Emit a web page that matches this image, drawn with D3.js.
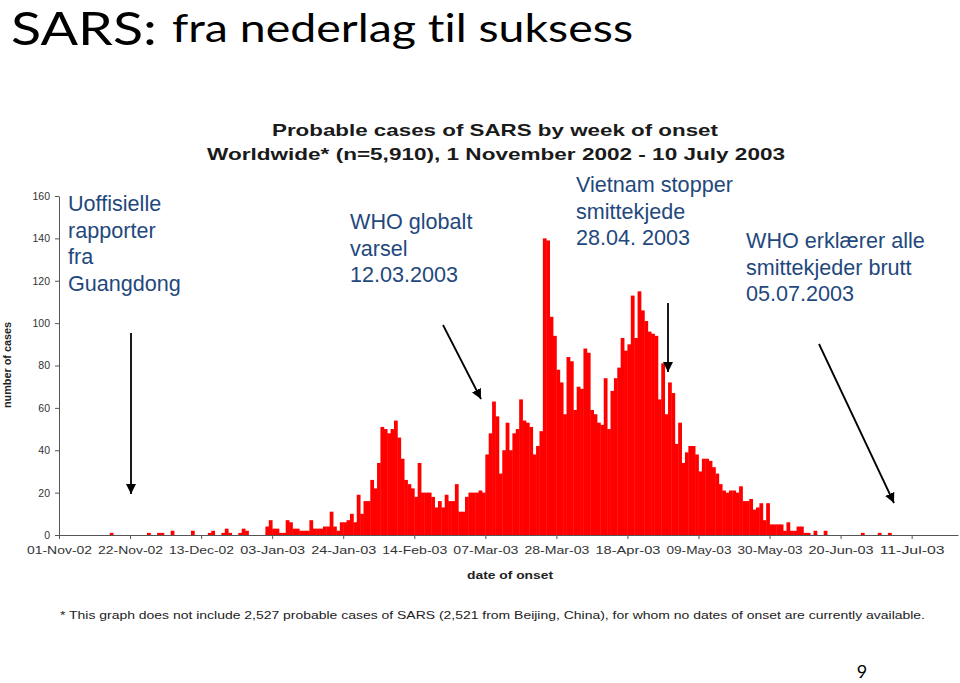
<!DOCTYPE html>
<html>
<head>
<meta charset="utf-8">
<script src="https://cdn.jsdelivr.net/npm/d3@7"></script>
<style>
  html, body { margin: 0; padding: 0; background: #fff; }
  svg { display: block; }
  text { font-variant-ligatures: none; font-feature-settings: "liga" 0; }
</style>
</head>
<body>
<svg id="chart" width="960" height="683"></svg>
<script>
// ---------------- DATA ----------------
// Daily probable SARS cases by date of onset, starting 01-Nov-2002 (index 0)
const dailyCases = [
  0,0,0,0,0,0,0, 0,0,0,0,0,0,0,            // 0-13
  0,1,0,0,0,0,0, 0,0,0,0,0,1,0,            // 14-27
  0,1,1,0,0,2,0, 0,0,0,0,2,0,0,            // 28-41
  0,0,1,2,0,0,1, 3,1,0,0,1,3,2,            // 42-55
  0,0,0,0,0,4,7, 3,3,1,1,7,6,3,            // 56-69
  3,2,2,2,7,3,3, 3,4,4,11,4,2,6,           // 70-83
  6,7,10,6,19,10,16, 16,26,22,34,51,50,48, // 84-97
  50,54,46,36,26,24,22, 18,34,20,20,20,18,13, // 98-111
  16,13,19,16,16,24,11, 11,18,20,20,20,21,20, // 112-125
  38,48,63,56,29,40,53, 40,48,50,64,54,53,51, // 126-139
  38,42,49,140,139,103,94, 78,72,57,84,82,59,70, // 140-153
  69,88,86,59,57,53,52, 74,50,68,74,79,93,87,    // 154-167
  90,113,93,115,106,101,96, 95,94,64,81,57,72,67, // 168-181
  43,53,34,39,42,42,38, 30,36,36,35,32,29,24,     // 182-195
  21,20,21,21,20,23,16, 16,17,12,13,15,7,15,      // 196-209
  5,5,5,5,2,6,2, 2,4,4,1,1,0,2,                   // 210-223
  0,0,2,0,0,0,0, 0,0,0,0,0,0,1,                   // 224-237
  0,0,0,0,1,0,0, 1,0,0,0,0,0,0                    // 238-251
];
const tickDays   = [0, 21, 42, 63, 84, 105, 126, 147, 168, 189, 210, 231, 252];
const tickLabels = ["01-Nov-02","22-Nov-02","13-Dec-02","03-Jan-03","24-Jan-03","14-Feb-03",
                    "07-Mar-03","28-Mar-03","18-Apr-03","09-May-03","30-May-03","20-Jun-03","11-Jul-03"];
const yTicks = [0, 20, 40, 60, 80, 100, 120, 140, 160];

const annotations = [
  { lines: ["Uoffisielle", "rapporter", "fra", "Guangdong"] },
  { lines: ["WHO globalt", "varsel", "12.03.2003"] },
  { lines: ["Vietnam stopper", "smittekjede", "28.04. 2003"] },
  { lines: ["WHO erklærer alle", "smittekjeder brutt", "05.07.2003"] }
];

// ---------------- LAYOUT ----------------
const svg = d3.select("#chart");
svg.append("rect").attr("width", 960).attr("height", 683).attr("fill", "#fff");

const x = d3.scaleLinear().domain([0, 265.7]).range([59, 958]);
const y = d3.scaleLinear().domain([0, 160]).range([535, 196]);

// Slide title
svg.append("text").attr("x", 11).attr("y", 45)
  .style("font-family", "Lato, 'Open Sans', sans-serif")
  .style("font-size", "45.5px").attr("fill", "#000")
  .attr("textLength", 146).attr("lengthAdjust", "spacingAndGlyphs")
  .text("SARS:");
svg.append("text").attr("x", 172).attr("y", 42)
  .style("font-family", "Lato, 'Open Sans', sans-serif")
  .style("font-size", "38px").attr("fill", "#000")
  .attr("textLength", 461).attr("lengthAdjust", "spacingAndGlyphs")
  .text("fra nederlag til suksess");

// Chart titles
const titleFont = "'Liberation Sans', Arial, sans-serif";
svg.append("text").attr("x", 495).attr("y", 136).attr("text-anchor", "middle")
  .style("font-family", titleFont).style("font-size", "17px").style("font-weight", "bold")
  .attr("fill", "#1a1a1a")
  .attr("textLength", 446).attr("lengthAdjust", "spacingAndGlyphs")
  .text("Probable cases of SARS by week of onset");
svg.append("text").attr("x", 496).attr("y", 160).attr("text-anchor", "middle")
  .style("font-family", titleFont).style("font-size", "17px").style("font-weight", "bold")
  .attr("fill", "#1a1a1a")
  .attr("textLength", 578).attr("lengthAdjust", "spacingAndGlyphs")
  .text("Worldwide* (n=5,910), 1 November 2002 - 10 July 2003");

// Bars
const barData = dailyCases.map((v, i) => ({ day: i, value: v })).filter(d => d.value > 0);
svg.append("g").selectAll("rect").data(barData).join("rect")
  .attr("x", d => x(d.day))
  .attr("width", d => x(d.day + 1) - x(d.day) + 0.4)
  .attr("y", d => y(d.value))
  .attr("height", d => y(0) - y(d.value))
  .attr("fill", "#ff0000");

// Axes
const axisFont = "'Liberation Sans', Arial, sans-serif";
const yAxis = svg.append("g").attr("transform", `translate(${x(0)},0)`)
  .call(d3.axisLeft(y).tickValues(yTicks).tickSize(4).tickSizeOuter(0).tickPadding(5));
yAxis.select(".domain").attr("stroke", "#555");
yAxis.selectAll(".tick line").attr("stroke", "#555");
yAxis.selectAll("text").style("font-family", axisFont).style("font-size", "10.5px").attr("fill", "#333");

const xAxis = svg.append("g").attr("transform", `translate(0,${y(0)})`)
  .call(d3.axisBottom(x).tickValues(tickDays).tickSize(4).tickSizeOuter(0).tickPadding(7)
    .tickFormat((d, i) => tickLabels[i]));
xAxis.select(".domain").attr("stroke", "#555");
xAxis.selectAll(".tick line").attr("stroke", "#555");
xAxis.selectAll("text").style("font-family", axisFont).style("font-size", "11px").attr("fill", "#333")
  .attr("textLength", 65).attr("lengthAdjust", "spacingAndGlyphs");

// Axis titles
svg.append("text").attr("transform", "translate(11,365) rotate(-90)").attr("text-anchor", "middle")
  .style("font-family", axisFont).style("font-size", "10px").style("font-weight", "bold").attr("fill", "#222")
  .attr("textLength", 86).attr("lengthAdjust", "spacingAndGlyphs")
  .text("number of cases");
svg.append("text").attr("x", 510).attr("y", 579).attr("text-anchor", "middle")
  .style("font-family", axisFont).style("font-size", "11px").style("font-weight", "bold").attr("fill", "#222")
  .attr("textLength", 86).attr("lengthAdjust", "spacingAndGlyphs")
  .text("date of onset");

// Footnote
svg.append("text").attr("x", 60).attr("y", 619)
  .style("font-family", axisFont).style("font-size", "11px").attr("fill", "#222")
  .attr("textLength", 865).attr("lengthAdjust", "spacingAndGlyphs")
  .text("* This graph does not include 2,527 probable cases of SARS (2,521 from Beijing, China), for whom no dates of onset are currently available.");

// Annotations
const annoPos = [[68, 211], [350, 229], [576, 192], [746, 248]];
annotations.forEach((a, i) => {
  const t = svg.append("text").attr("x", annoPos[i][0]).attr("y", annoPos[i][1])
    .style("font-family", "'Liberation Sans', Arial, sans-serif").style("font-size", "21.6px")
    .attr("fill", "#1F497D");
  a.lines.forEach((ln, j) => {
    t.append("tspan").attr("x", annoPos[i][0]).attr("dy", j === 0 ? 0 : 26.5).text(ln);
  });
});

// Arrows (from, to) in pixel coordinates
const defs = svg.append("defs");
defs.append("marker").attr("id", "ah").attr("viewBox", "0 0 10 10")
  .attr("refX", 10).attr("refY", 5).attr("markerWidth", 10).attr("markerHeight", 10)
  .attr("markerUnits", "userSpaceOnUse").attr("orient", "auto")
  .append("path").attr("d", "M0,0 L10,5 L0,10 Z").attr("fill", "#000");
const arrows = [
  [131, 333, 131, 494],
  [443, 325, 481, 399],
  [668, 303, 668, 372],
  [819, 344, 894, 503]
];
arrows.forEach(a => {
  svg.append("line").attr("x1", a[0]).attr("y1", a[1]).attr("x2", a[2]).attr("y2", a[3])
    .attr("stroke", "#000").attr("stroke-width", 1.8).attr("marker-end", "url(#ah)");
});

// Page number
svg.append("text").attr("x", 862).attr("y", 678).attr("text-anchor", "middle")
  .style("font-family", "Lato, 'Open Sans', sans-serif").style("font-size", "18px").attr("fill", "#000")
  .text("9");
</script>
</body>
</html>
